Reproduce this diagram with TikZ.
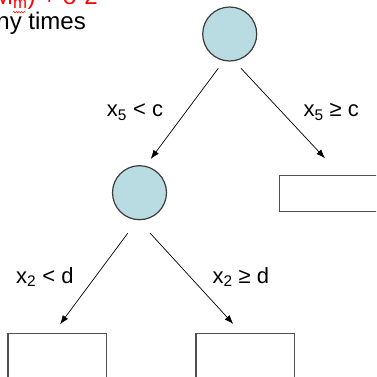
\documentclass[tikz,border=0pt]{standalone}
\usepackage{fontspec}
\setmainfont{Liberation Sans}
\usetikzlibrary{arrows.meta,decorations.pathmorphing}
\definecolor{splitfill}{RGB}{184,220,226}
\definecolor{splitedge}{RGB}{60,60,60}
\definecolor{leafedge}{RGB}{80,80,80}
\tikzset{
  split/.style={circle, draw=splitedge, line width=1.2pt, fill=splitfill,
    minimum size=54pt, inner sep=0pt},
  leaf/.style={rectangle, draw=leafedge, line width=1.2pt, inner sep=0pt,
    anchor=north west},
  branch/.style={line width=0.7pt, -{Latex[length=9pt,width=6.5pt]}},
  cond/.style={inner sep=0pt, anchor=base west, font=\fontsize{22}{26}\selectfont},
  toptext/.style={inner sep=0pt, anchor=base east, font=\fontsize{24}{28}\selectfont}
}
\begin{document}
\begin{tikzpicture}[x=1pt,y=-1pt]
\useasboundingbox (0,0) rectangle (376,377);
\clip (0,0) rectangle (376,377);

% header text running off the top-left corner
\node[toptext, text=red] (hdr) at (98,4.5) {(M\textsubscript{m}) + σ 2};
\node[toptext] (times) at (86,29.3) {many times};
\draw[red, line width=0.5pt, decorate,
  decoration={snake, amplitude=0.8pt, segment length=2.6pt}]
  (13,12.2) -- (25.5,12.2);

% split nodes
\node[split] (root) at (229.7,34) {};
\node[split] (mid) at (139.5,192.7) {};

% leaves
\node[leaf, minimum width=120pt, minimum height=36pt] (leafR) at (279,175) {};
\node[leaf, minimum width=98.4pt, minimum height=70pt] (leafLL) at (7.3,332.7) {};
\node[leaf, minimum width=98.7pt, minimum height=70pt] (leafLR) at (195.3,332.7) {};

% branch end points
\coordinate (rootL) at (218.3,68.3);
\coordinate (rootR) at (241,68.3);
\coordinate (midIn) at (150.7,159);
\coordinate (leafRIn) at (325,158.3);
\coordinate (midL) at (127.7,233.3);
\coordinate (midR) at (150,233);
\coordinate (leafLLIn) at (60,324.3);
\coordinate (leafLRIn) at (233.3,324);

\draw[branch] (rootL) -- (midIn);
\draw[branch] (rootR) -- (leafRIn);
\draw[branch] (midL) -- (leafLLIn);
\draw[branch] (midR) -- (leafLRIn);

% branch conditions
\node[cond] (c1) at (106.7,116.7) {x\textsubscript{5} < c};
\node[cond] (c2) at (303.3,116.7) {x\textsubscript{5} ≥ c};
\node[cond] (c3) at (16,283.3) {x\textsubscript{2} < d};
\node[cond] (c4) at (212.3,283.3) {x\textsubscript{2} ≥ d};
\end{tikzpicture}
\end{document}
